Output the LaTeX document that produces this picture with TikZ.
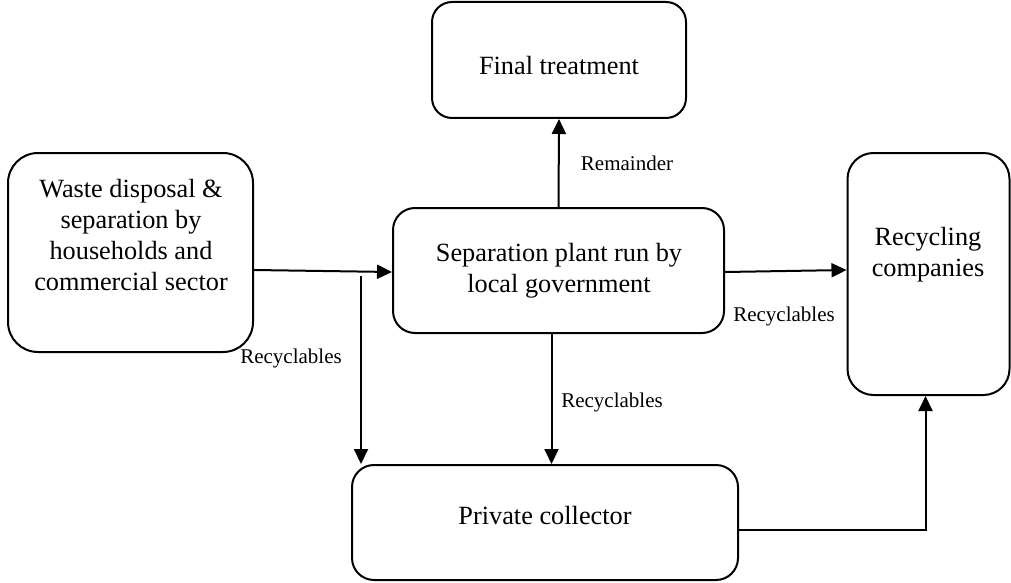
\documentclass[tikz,border=0pt]{standalone}
\usepackage{fontspec}
\setmainfont{Liberation Serif}
\usetikzlibrary{
    arrows.meta,
    calc,
    positioning
}

\begin{document}
\begin{tikzpicture}[x=1pt, y=-1pt,
    line width=2pt,
    box/.style={draw, rectangle, rounded corners=22pt, inner sep=0pt},
    txt/.style={align=center, font=\fontsize{26.3}{31}\selectfont, inner sep=0pt},
    flow/.style={-{Triangle[length=15pt,width=14pt]}},
    lbl/.style={font=\fontsize{21}{24}\selectfont, inner sep=0pt}]
    \useasboundingbox (0, 0) rectangle (1011, 583);

    % boxes
    \node[box, rounded corners=30pt, minimum width=245pt, minimum height=199pt] (waste) at (130.5, 252.5) {};
    \node[box, rounded corners=20pt, minimum width=254pt, minimum height=116pt] (final) at (559, 60) {};
    \node[box, minimum width=331pt, minimum height=125pt] (sep) at (558.5, 270.5) {};
    \node[box, rounded corners=26pt, minimum width=162pt, minimum height=242pt] (recyc) at (928.5, 274) {};
    \node[box, minimum width=386pt, minimum height=115pt] (priv) at (545, 522.5) {};

    % texts
    \node[txt] (wastetxt) at (131, 235) {Waste disposal \&\\separation by\\households and\\commercial sector};
    \node[txt] (finaltxt) at (559, 66) {Final treatment};
    \node[txt] (septxt) at (559, 271) {Separation plant run by\\local government};
    \node[txt] (recyctxt) at (928, 255) {Recycling\\companies};
    \node[txt] (privtxt) at (545, 515) {Private collector};

    \coordinate (split) at (361, 276);

    \draw[flow] (waste.east |- 0, 270) -- (sep.west |- 0, 272);
    \draw[flow] (split) -- (split |- priv.north);
    \draw[flow] (sep.north) -- (final.south);
    \draw[flow] (sep.east |- 0, 272) -- (recyc.west |- 0, 270);
    \draw[flow] ([xshift=-7pt]sep.south) -- ([xshift=-7pt]sep.south |- priv.north);
    \draw[flow] (priv.east |- 0, 530) -| ([xshift=-3pt]recyc.south);

    \node[lbl] (l1) at (291, 358) {Recyclables};
    \node[lbl] (l2) at (627, 163) {Remainder};
    \node[lbl] (l3) at (784, 316) {Recyclables};
    \node[lbl] (l4) at (612, 402) {Recyclables};
\end{tikzpicture}
\end{document}
